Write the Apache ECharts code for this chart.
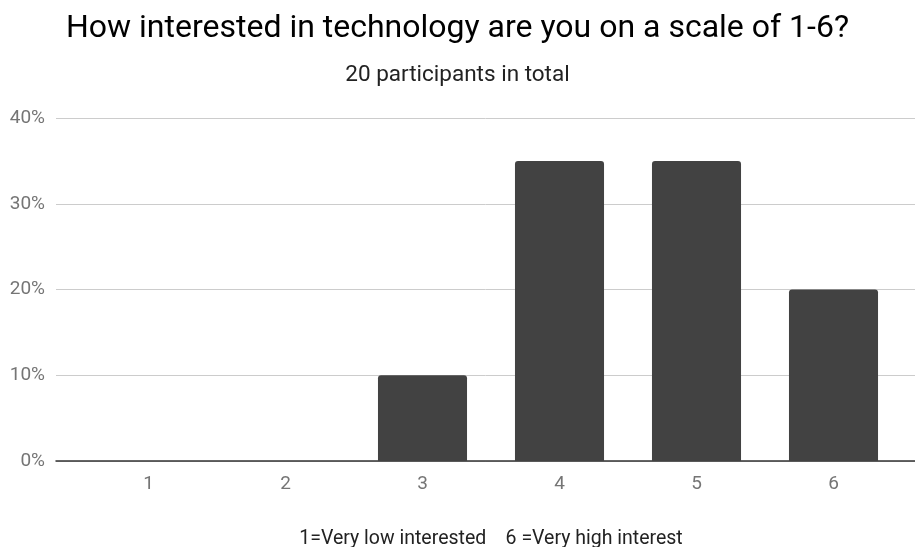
<!DOCTYPE html>
<html>
<head>
<meta charset="utf-8">
<script src="https://cdn.jsdelivr.net/npm/echarts@6/dist/echarts.min.js"></script>
<style>
  html, body { margin: 0; padding: 0; background: #fff; }
  #chart { width: 915px; height: 547px; }
</style>
</head>
<body>
<div id="chart"></div>
<script>
// Survey answers: share of participants per interest level
const categories = ['1', '2', '3', '4', '5', '6'];
const shares = [0, 0, 0.10, 0.35, 0.35, 0.20];
const yTicks = [0, 0.1, 0.2, 0.3, 0.4];

const titleText = 'How interested in technology are you on a scale of 1-6?';
const subtitleText = '20 participants in total';
const xAxisTitle = '1=Very low interested    6 =Very high interest';

const font = 'Roboto, "Noto Sans", sans-serif';
const chart = echarts.init(document.getElementById('chart'), null, { renderer: 'canvas' });

chart.setOption({
  animation: false,
  backgroundColor: '#ffffff',
  title: [
    {
      text: titleText,
      left: 'center', top: 8,
      textStyle: { fontFamily: font, fontSize: 32, fontWeight: 'normal', color: '#000000' }
    },
    {
      text: subtitleText,
      left: 'center', top: 59,
      textStyle: { fontFamily: font, fontSize: 22.5, fontWeight: 'normal', color: '#222222' }
    }
  ],
  grid: [
    // bars
    { left: 80, right: 13, top: 118, bottom: 86, outerBoundsMode: 'none' },
    // full-width gridlines and percentage labels
    { left: 56, right: 0, top: 118, bottom: 86, outerBoundsMode: 'none' }
  ],
  xAxis: [
    {
      type: 'category', gridIndex: 0, data: categories,
      axisLine: { show: false }, axisTick: { show: false },
      axisLabel: { margin: 14, fontFamily: font, fontSize: 19, color: '#757575' },
      name: xAxisTitle, nameLocation: 'middle', nameGap: 68,
      nameTextStyle: { fontFamily: font, fontSize: 19.5, color: '#222222' }
    },
    {
      type: 'value', gridIndex: 1, min: 0, max: 1,
      axisLine: { show: true, lineStyle: { color: '#333333', width: 1.5 } },
      axisTick: { show: false }, axisLabel: { show: false }, splitLine: { show: false }
    }
  ],
  yAxis: [
    {
      type: 'value', gridIndex: 0, min: 0, max: 0.4, interval: 0.1,
      show: false, splitLine: { show: false }
    },
    {
      type: 'value', gridIndex: 1, min: 0, max: yTicks[yTicks.length - 1], interval: 0.1,
      axisLine: { show: false }, axisTick: { show: false },
      axisLabel: {
        margin: 11, fontFamily: font, fontSize: 19, color: '#757575',
        formatter: v => Math.round(v * 100) + '%'
      },
      splitLine: { lineStyle: { color: '#cccccc', width: 1 } }
    }
  ],
  series: [
    {
      type: 'bar', xAxisIndex: 0, yAxisIndex: 0,
      data: shares, barWidth: '65%',
      itemStyle: { color: '#424242', borderRadius: [3, 3, 0, 0] }
    }
  ]
});
</script>
</body>
</html>
